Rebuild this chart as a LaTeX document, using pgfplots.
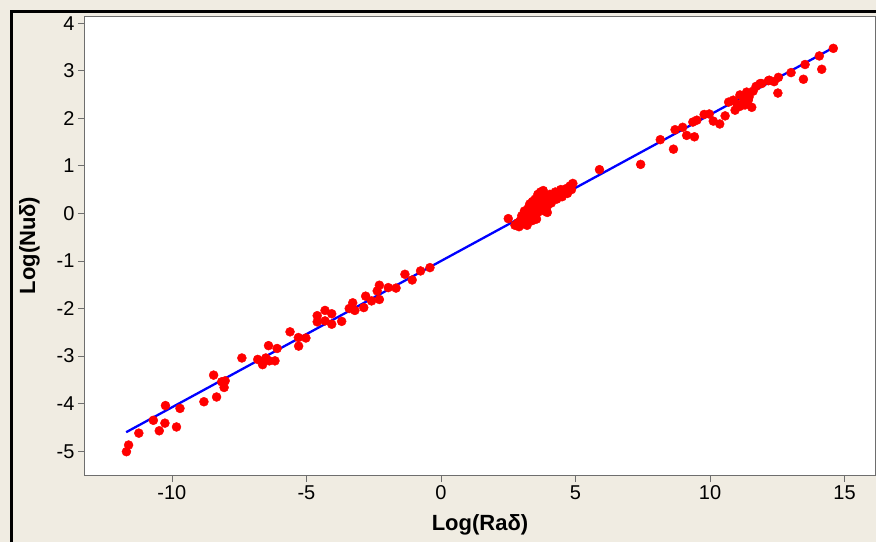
\documentclass[border=0pt]{standalone}
\usepackage{pgfplots}
\pgfplotsset{compat=1.18}
\usepackage{fontspec}
\setmainfont{Liberation Sans}
\definecolor{bg}{RGB}{240,236,226}
\definecolor{framec}{RGB}{110,110,110}
\pgfplotstableread{
x y
-11.69 -5.01
-11.61 -4.87
-11.23 -4.62
-10.69 -4.35
-10.47 -4.57
-10.26 -4.41
-10.24 -4.04
-9.83 -4.49
-9.70 -4.10
-8.81 -3.96
-8.45 -3.40
-8.34 -3.86
-8.15 -3.54
-8.02 -3.52
-8.06 -3.66
-7.40 -3.04
-6.81 -3.07
-6.63 -3.18
-6.51 -3.04
-6.38 -3.10
-6.17 -3.10
-6.41 -2.78
-6.09 -2.84
-5.61 -2.49
-5.30 -2.61
-5.02 -2.62
-5.29 -2.79
-4.60 -2.15
-4.60 -2.28
-4.31 -2.04
-4.06 -2.11
-4.31 -2.26
-4.06 -2.33
-3.69 -2.27
-3.41 -2.00
-3.28 -1.88
-3.20 -2.04
-2.87 -1.98
-2.80 -1.74
-2.58 -1.84
-2.29 -1.81
-2.37 -1.63
-2.29 -1.51
-1.96 -1.56
-1.67 -1.57
-1.34 -1.28
-1.07 -1.40
-0.76 -1.21
-0.41 -1.14
2.50 -0.11
2.75 -0.25
2.85 -0.20
2.90 -0.28
2.95 -0.15
3.00 -0.05
3.05 -0.22
3.10 -0.10
3.10 0.05
3.15 -0.18
3.20 0.00
3.20 -0.25
3.25 0.12
3.30 -0.08
3.30 0.20
3.35 0.05
3.40 -0.15
3.40 0.25
3.45 0.10
3.50 -0.05
3.50 0.30
3.55 0.18
3.60 0.40
3.60 0.02
3.65 0.25
3.70 0.45
3.70 0.10
3.75 0.32
3.80 0.20
3.80 0.48
3.85 0.05
3.90 0.35
3.95 0.15
4.00 0.28
4.05 0.40
4.10 0.22
4.20 0.35
4.25 0.45
4.30 0.30
4.40 0.40
4.45 0.50
4.50 0.35
4.55 0.45
4.65 0.52
4.70 0.42
4.80 0.58
4.90 0.63
4.85 0.50
3.55 -0.12
3.95 0.02
5.89 0.92
7.42 1.03
8.15 1.55
8.64 1.35
8.70 1.76
8.98 1.81
9.13 1.64
9.42 1.61
9.36 1.92
9.51 1.96
9.78 2.08
9.97 2.09
10.12 1.94
10.36 1.88
10.56 2.05
10.69 2.34
10.86 2.38
11.11 2.49
10.93 2.17
11.11 2.25
11.00 2.30
11.25 2.40
11.30 2.28
11.45 2.45
11.60 2.57
11.36 2.55
11.55 2.23
11.42 2.38
11.71 2.67
11.86 2.73
11.92 2.73
12.17 2.79
12.20 2.80
12.38 2.77
12.54 2.86
12.52 2.53
13.01 2.96
13.47 2.82
13.53 3.13
14.06 3.31
14.15 3.03
14.58 3.47
}\pts
\pgfplotstableread{
x y
-11.70 -4.60
14.60 3.49
}\fit
\begin{document}
\begin{tikzpicture}
\fill[bg] (-85pt,-67pt) rectangle (791pt,475pt);
\useasboundingbox (-85pt,-67pt) rectangle (791pt,475pt);
\draw[black, line width=3pt] (-73.5pt,-67pt) -- (-73.5pt,463.5pt) -- (791pt,463.5pt);
\begin{axis}[
  scale only axis, width=790pt, height=459pt,
  xmin=-13.23, xmax=16.13, ymin=-5.50, ymax=4.15,
  axis background/.style={fill=white},
  axis line style={draw=framec, line width=1pt},
  xtick={-10,-5,0,5,10,15},
  xticklabels={-10,-5,0,5,10,15},
  ytick={-5,-4,-3,-2,-1,0,1,2,3,4},
  yticklabels={-5,-4,-3,-2,-1,0,1,2,3,4},
  tick style={draw=framec, line width=0.8pt},
  tick align=outside, major tick length=7pt,
  xtick pos=left, ytick pos=left,
  tick label style={font=\fontsize{20}{20}\selectfont, text=black},
  every axis x label/.style={at={(axis description cs:0.5,0)}, anchor=north, yshift=-39pt, inner sep=0pt, font=\bfseries\fontsize{22}{22}\selectfont},
  every axis y label/.style={at={(axis description cs:0,0.5)}, xshift=-45pt, rotate=90, anchor=south, inner sep=0pt, font=\bfseries\fontsize{22}{22}\selectfont},
  xlabel={Log(Raδ)},
  ylabel={Log(Nuδ)},
  clip=false,
]
\addplot[blue, line width=2.3pt] table {\fit};
\addplot[only marks, mark=*, mark size=4.5pt, draw=red, fill=red, red] table {\pts};
\end{axis}
\end{tikzpicture}
\end{document}
